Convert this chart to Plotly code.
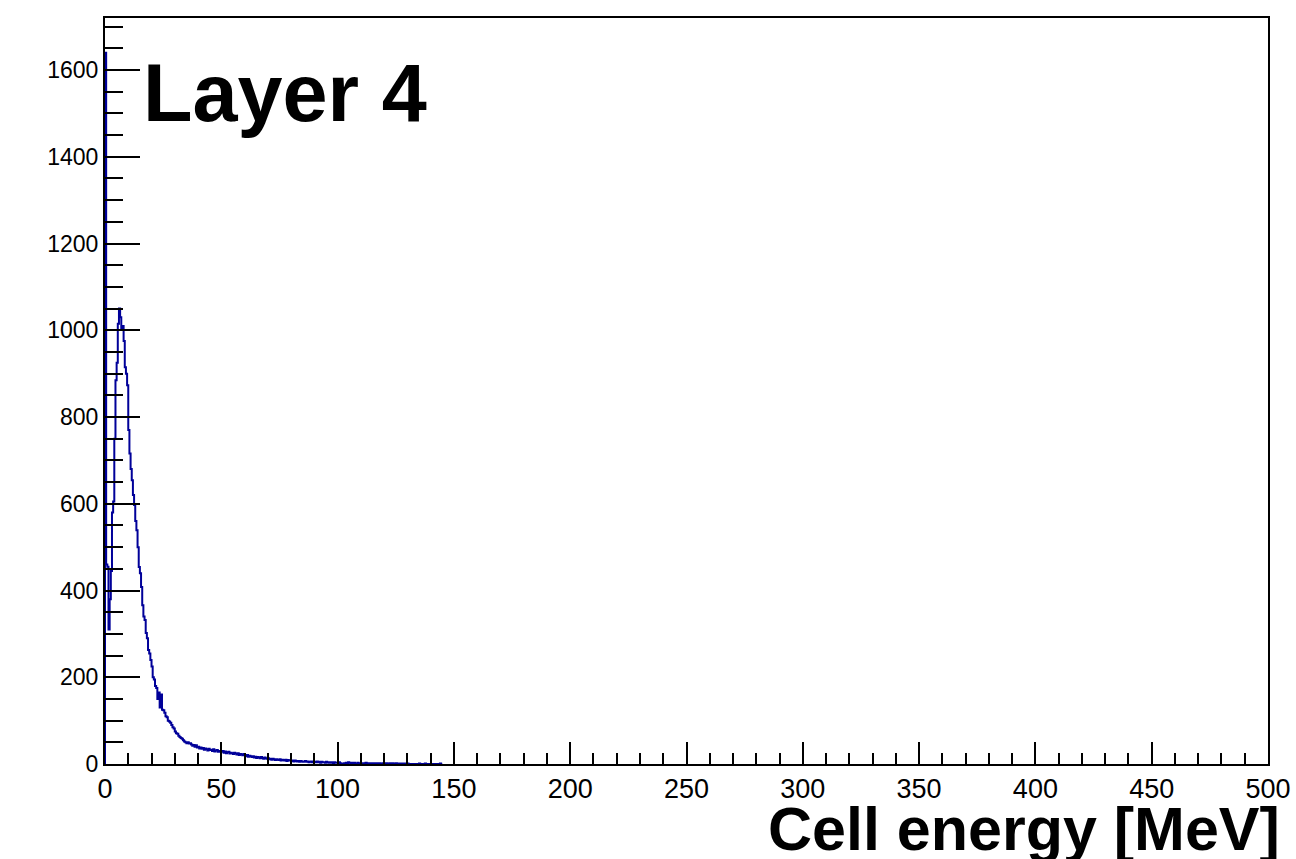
import numpy as np
import plotly.graph_objects as go

# Histogram: Cell energy [MeV], Layer 4, 0.5 MeV bins starting at 0
BIN_WIDTH = 0.5
X_MIN, X_MAX = 0, 500
Y_MAX = 1720

counts_0_20 = [1640, 460, 455, 310, 380, 445, 580, 605, 750, 885,
               925, 1015, 1050, 1030, 1005, 1010, 975, 915, 900, 873,
               770, 716, 680, 654, 620, 597, 560, 539, 500, 454,
               440, 408, 366, 340, 332, 302, 290, 263, 255, 240]
counts_20_40 = [225, 200, 195, 180, 175, 150, 165, 130, 160, 125,
                124, 118, 110, 108, 100, 98, 95, 90, 85, 82,
                75, 71, 70, 65, 62, 60, 58, 55, 52, 50,
                48, 50, 47, 48, 45, 42, 44, 40, 43, 38]
counts_40_60 = [40, 36, 38, 35, 37, 33, 36, 34, 31, 35,
                32, 33, 30, 34, 29, 31, 32, 28, 30, 29,
                28, 30, 26, 29, 25, 27, 28, 24, 26, 25,
                23, 26, 24, 22, 25, 21, 23, 22, 20, 23]
counts_60_80 = [20, 18, 21, 17, 19, 18, 16, 18, 15, 17,
                14, 16, 15, 13, 16, 14, 12, 15, 13, 12,
                13, 11, 12, 10, 12, 11, 9, 11, 10, 9,
                11, 8, 10, 9, 8, 10, 7, 9, 8, 8]
counts_80_100 = [7, 8, 6, 8, 7, 6, 7, 5, 7, 6,
                 5, 6, 7, 5, 6, 4, 5, 6, 4, 5,
                 5, 4, 6, 4, 5, 3, 5, 4, 4, 3,
                 5, 4, 3, 4, 3, 4, 2, 4, 3, 3]
counts_100_120 = [3, 4, 2, 0, 0, 2, 0, 3, 2, 4,
                  3, 2, 3, 2, 3, 1, 0, 3, 2, 1,
                  2, 2, 1, 2, 3, 2, 2, 1, 2, 2,
                  1, 2, 2, 1, 2, 1, 2, 1, 1, 2]
counts_120_145 = [2, 1, 2, 1, 1, 2, 1, 2, 1, 1,
                  2, 1, 1, 0, 1, 1, 1, 0, 1, 1,
                  1, 0, 0, 0, 0, 0, 0, 0, 0, 0,
                  1, 0, 0, 0, 0, 1, 0, 0, 0, 0,
                  0, 0, 0, 0, 0, 0, 0, 0, 1, 0]

counts = (counts_0_20 + counts_20_40 + counts_40_60 + counts_60_80 +
          counts_80_100 + counts_100_120 + counts_120_145)

edges = X_MIN + BIN_WIDTH * np.arange(len(counts) + 1)
xs = [edges[0]] + list(edges[:-1]) + [edges[-1], edges[-1]]
ys = [0] + list(counts) + [counts[-1], 0]

FONT = "Liberation Sans, Arial, Helvetica, sans-serif"

fig = go.Figure()
fig.add_trace(go.Scatter(
    x=xs, y=ys, mode="lines", line_shape="hv",
    line=dict(color="#000099", width=2), hoverinfo="skip", showlegend=False,
))

fig.update_layout(
    width=1296, height=859,
    margin=dict(l=105, r=28, t=18, b=95),
    paper_bgcolor="white", plot_bgcolor="white",
    font=dict(family=FONT, color="black"),
)

fig.update_xaxes(
    range=[X_MIN, X_MAX], dtick=50, tick0=0, automargin=False,
    showgrid=False, zeroline=False,
    showline=True, linecolor="black", linewidth=2, mirror=True,
    ticks="inside", ticklen=22, tickwidth=2, tickcolor="black",
    minor=dict(dtick=10, tick0=0, ticks="inside", ticklen=11, tickwidth=2,
               tickcolor="black", showgrid=False),
    tickfont=dict(size=27, family=FONT, color="black"),
)
fig.update_yaxes(
    range=[0, Y_MAX], dtick=200, tick0=0, automargin=False,
    showgrid=False, zeroline=False,
    showline=True, linecolor="black", linewidth=2, mirror=True,
    ticks="inside", ticklen=35, tickwidth=2, tickcolor="black",
    minor=dict(dtick=50, tick0=0, ticks="inside", ticklen=18, tickwidth=2,
               tickcolor="black", showgrid=False),
    tickfont=dict(size=23, family=FONT, color="black"),
)

fig.add_annotation(
    text="<b>Layer 4</b>", xref="paper", yref="paper",
    x=0.031, y=0.899, xanchor="left", yanchor="middle", showarrow=False,
    font=dict(size=81, family=FONT, color="black"),
)
fig.add_annotation(
    text="<b>Cell energy [MeV]</b>", xref="paper", yref="paper",
    x=1.012, y=-0.087, xanchor="right", yanchor="middle", showarrow=False,
    font=dict(size=61, family=FONT, color="black"),
)

fig.write_html("out.html")
